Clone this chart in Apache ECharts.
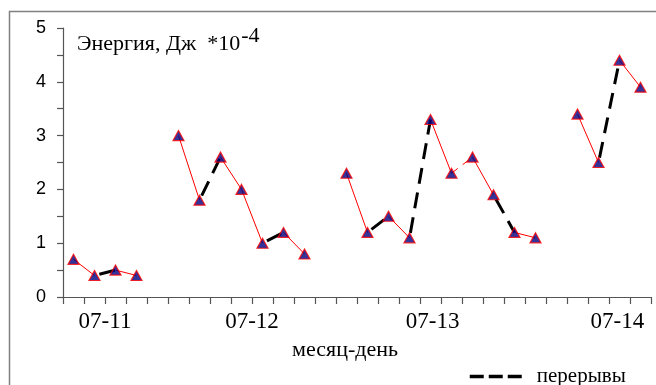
<!DOCTYPE html>
<html>
<head>
<meta charset="utf-8">
<script src="https://cdn.jsdelivr.net/npm/echarts@6/dist/echarts.min.js"></script>
<style>html,body{margin:0;padding:0;background:#fff;}#c{width:656px;height:385px;}</style>
</head>
<body>
<div id="c"></div>
<script>
// Observation slots along the x axis (28 categories)
const categories = ['1','2','3','4','5','6','7','8','9','10','11','12','13','14','15','16','17','18','19','20','21','22','23','24','25','26','27','28'];
// Energy, J * 10^-4 (null = no observation)
const energy = [0.7, 0.4, 0.5, 0.4, null, 3.0, 1.8, 2.6, 2.0, 1.0, 1.2, 0.8, null, 2.3, 1.2, 1.5, 1.1, 3.3, 2.3, 2.6, 1.9, 1.2, 1.1, null, 3.4, 2.5, 4.4, 3.9];
// Connection type between slot i and i+1: 'solid' = continuous, 'break' = перерывы, 'redbreak', '' = none
const links = ['solid','break','solid','','','solid','break','solid','solid','break','solid','','','solid','break','solid','break','solid','redbreak','solid','break','solid','','','solid','break','solid'];
// Date tick labels and their positions (in slot units from the left end of the axis)
const dateLabels = ['07-11', '07-12', '07-13', '07-14'];
const datePositions = [2, 9, 17.6, 26.4];
// Y ticks
const yMin = 0, yMax = 5, yStep = 1;

const SERIF = '"Liberation Serif", "Times New Roman", serif';
const SANS = '"Liberation Sans", Arial, sans-serif';

const series = [];
links.forEach((t, i) => {
  if (!t) return;
  const seg = [[i, energy[i]], [i + 1, energy[i + 1]]];
  let ls;
  if (t === 'solid') ls = { color: '#ff0000', width: 1, type: 'solid' };
  else if (t === 'break') ls = { color: '#000000', width: 3, type: [16, 9], dashOffset: 20 };
  else ls = { color: '#ff0000', width: 1, type: [8, 6] };
  series.push({
    type: 'line',
    name: t === 'break' ? 'перерывы' : 'seg' + i,
    xAxisIndex: 0, yAxisIndex: 0,
    data: seg,
    symbol: 'none',
    itemStyle: { color: ls.color },
    lineStyle: ls,
    silent: true,
    animation: false,
    z: 2
  });
});
series.push({
  type: 'scatter',
  name: 'points',
  xAxisIndex: 0, yAxisIndex: 0,
  data: energy.map((v, i) => v == null ? null : [i, v]).filter(d => d),
  symbol: 'triangle',
  symbolSize: [11, 10],
  itemStyle: { color: '#000080', borderColor: '#ff0000', borderWidth: 1.2 },
  silent: true,
  animation: false,
  z: 5
});

const chart = echarts.init(document.getElementById('c'), null, { renderer: 'canvas' });
chart.setOption({
  backgroundColor: '#ffffff',
  animation: false,
  title: {
    left: 72, top: 20,
    text: '{a|Энергия, Дж  *10}{s|-4}',
    textStyle: {
      fontWeight: 'normal',
      rich: {
        a: { fontFamily: SERIF, fontSize: 22, fontWeight: 'normal', color: '#000', lineHeight: 30, verticalAlign: 'bottom' },
        s: { fontFamily: SERIF, fontSize: 22, fontWeight: 'normal', color: '#000', lineHeight: 30, verticalAlign: 'top', padding: [0, 0, 0, 1] }
      }
    }
  },
  legend: {
    data: ['перерывы'],
    left: 463, top: 361,
    itemWidth: 52, itemHeight: 14, itemGap: 0,
    itemStyle: { opacity: 0 },
    lineStyle: { color: '#000', width: 3.5, type: [14, 5], dashOffset: 0 },
    textStyle: { fontFamily: SERIF, fontSize: 21, color: '#000', padding: [0, 0, 0, 10] }
  },
  grid: { left: 63, top: 28, width: 588, height: 269, containLabel: false },
  xAxis: [{
    type: 'category',
    data: categories,
    boundaryGap: true,
    axisLine: { show: true, lineStyle: { color: '#555', width: 1.2 } },
    axisTick: { show: true, interval: 0, length: 7, lineStyle: { color: '#555', width: 1.2 } },
    axisLabel: { show: false },
    splitLine: { show: false },
    name: 'месяц-день',
    nameLocation: 'middle',
    nameGap: 42,
    nameTextStyle: { fontFamily: SERIF, fontSize: 22, color: '#000', padding: [0, 24, 0, 0] }
  }, {
    type: 'value',
    position: 'bottom',
    min: 0, max: categories.length, interval: 0.2,
    axisLine: { show: false }, axisTick: { show: false }, splitLine: { show: false },
    axisLabel: {
      show: true, margin: 13,
      fontFamily: SERIF, fontSize: 23, color: '#000',
      formatter: (v) => {
        const k = datePositions.findIndex(p => Math.abs(p - v) < 0.05);
        return k >= 0 ? dateLabels[k] : '';
      }
    }
  }],
  yAxis: {
    type: 'value',
    min: yMin, max: yMax, interval: yStep,
    axisLine: { show: true, lineStyle: { color: '#555', width: 1.2 } },
    axisTick: { show: true, length: 6, lineStyle: { color: '#555', width: 1.2 } },
    minorTick: { show: true, splitNumber: 2, length: 6, lineStyle: { color: '#555', width: 1.2 } },
    splitLine: { show: false },
    axisLabel: { margin: 17, fontFamily: SANS, fontSize: 18, color: '#000' }
  },
  graphic: [{
    type: 'rect',
    shape: { x: 9.5, y: 11.5, width: 800, height: 600 },
    style: { fill: 'none', stroke: '#808080', lineWidth: 1.5 },
    silent: true,
    z: -10
  }],
  series: series
});
</script>
</body>
</html>
